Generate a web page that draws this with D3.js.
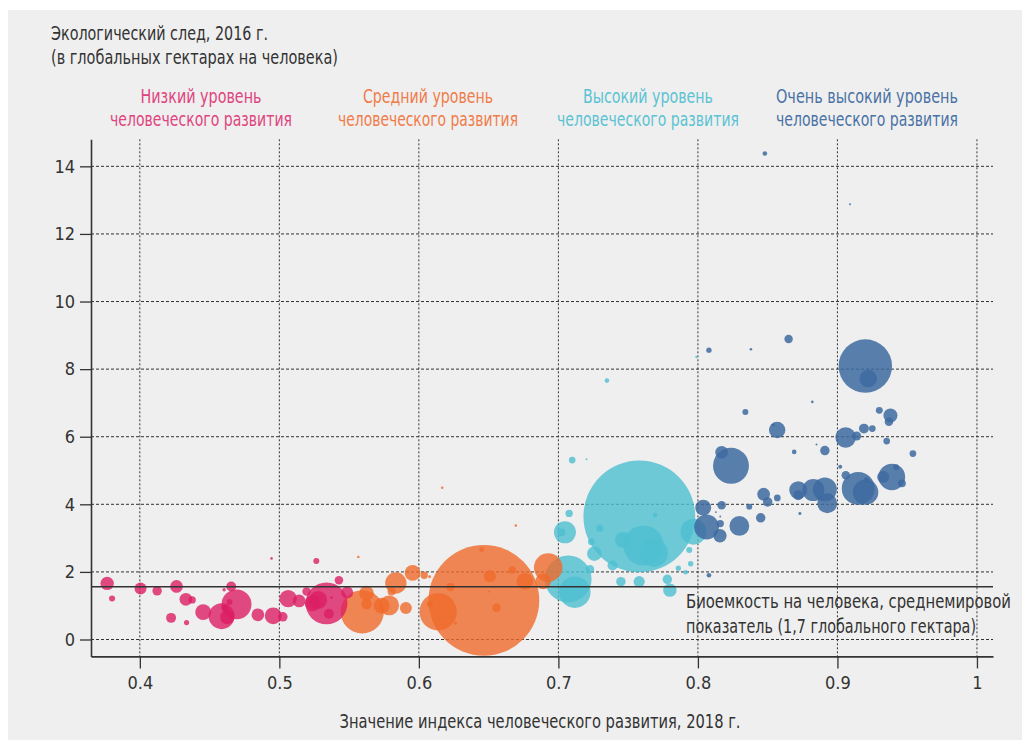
<!DOCTYPE html>
<html><head><meta charset="utf-8">
<script src="https://cdn.jsdelivr.net/npm/d3@7"></script>
<style>
html,body{margin:0;padding:0;background:#fff;}
svg text{font-family:"DejaVu Sans Condensed","DejaVu Sans",sans-serif;}
</style></head>
<body>
<svg id="chart" width="1029" height="747"></svg>
<script>
// ---------- DATA ----------
const groupNames = ["Низкий уровень|человеческого развития","Средний уровень|человеческого развития","Высокий уровень|человеческого развития","Очень высокий уровень|человеческого развития"];
const xTicks = [0.4,0.5,0.6,0.7,0.8,0.9,1.0];
const yTicks = [0,2,4,6,8,10,12,14];
const biocapacity = 1.56;

// low HDI: [hdi, footprint, population (mln)]
const lowHDI = [
 [0.3766,1.66,20],[0.3801,1.21,4],[0.4005,1.51,16],[0.4124,1.44,10],[0.4263,1.57,18],
 [0.4224,0.64,11],[0.4335,0.50,3],[0.4330,1.19,18],[0.4375,1.17,6],[0.4454,0.81,28],
 [0.4586,0.69,75],[0.4693,1.04,100],[0.4626,0.66,22],[0.4655,1.57,11],[0.4604,1.47,1.3],
 [0.4643,1.11,4],[0.4609,0.93,5],[0.4846,0.73,18],[0.4956,0.70,32],[0.5025,0.67,10],
 [0.4944,2.40,0.75],[0.5063,1.21,34],[0.5142,1.14,18],[0.5195,1.42,8],[0.5265,2.32,4],
 [0.5238,1.07,28],[0.5338,1.07,196],[0.5278,1.17,36],[0.5355,0.76,11],[0.5427,1.75,8],
 [0.5486,1.39,16],[0.5374,1.24,0.75]
];
// medium HDI
const mediumHDI = [
 [0.6466,1.16,1369],[0.5594,0.82,209],[0.5625,1.37,24],[0.5625,1.05,12],[0.5733,1.00,28],
 [0.5787,1.01,44],[0.5835,1.67,51],[0.5804,1.42,7],[0.5907,0.93,16],[0.5955,1.97,28],
 [0.6038,1.90,6],[0.6077,1.86,1],[0.5566,2.44,0.75],[0.6167,4.49,0.75],[0.6138,0.82,155],
 [0.6079,1.04,4],[0.6227,1.55,8],[0.6263,0.48,1],[0.6450,2.66,2.4],[0.6509,1.87,16],
 [0.6504,1.42,0.5],[0.6557,0.94,8],[0.6669,2.06,6],[0.6695,3.37,0.75],[0.6760,1.72,31],
 [0.6927,2.13,91],[0.6891,1.72,28]
];
// high HDI
const highHDI = [
 [0.7580,3.64,1394],[0.7047,3.17,54],[0.7023,3.17,7],[0.7077,3.73,6],[0.7297,3.29,6],
 [0.7236,2.89,5],[0.7258,2.54,24],[0.7226,2.08,8],[0.7388,2.19,11],[0.7448,1.71,10],
 [0.7070,1.79,245],[0.7118,1.40,110],[0.7579,1.71,14],[0.7781,1.78,10],[0.7799,1.46,20],
 [0.7860,2.11,3.2],[0.7911,1.99,2.4],[0.7948,2.24,3.2],[0.7938,2.65,4],[0.7968,3.19,75],
 [0.7692,3.68,2.4],[0.7099,5.31,5],[0.7202,5.33,0.45],[0.7348,7.66,2.4],[0.7990,8.36,0.75],
 [0.7610,2.78,180],[0.7685,2.56,87],[0.7462,2.95,28],[0.7670,2.70,22]
];
// very high HDI
const veryHighHDI = [
 [0.8237,5.14,144],[0.8170,5.54,18],[0.8340,6.73,4],[0.8568,6.20,30],[0.8540,6.35,1],
 [0.8820,7.03,0.75],[0.8690,5.55,2.4],[0.8850,5.77,0.45],[0.8910,5.59,10],[0.9059,5.98,47],
 [0.9138,6.02,9],[0.9190,6.24,11],[0.9250,6.24,5],[0.9300,6.78,5.4],[0.9380,6.63,22],
 [0.9369,6.44,8],[0.9353,5.87,5],[0.9541,5.50,5],[0.9020,5.11,1.8],[0.9060,4.86,8],
 [0.9149,4.47,121],[0.9202,4.36,72],[0.9210,4.72,3.2],[0.9390,4.81,79],[0.9328,4.81,16],
 [0.9421,5.10,4],[0.9462,4.62,7],[0.8719,4.42,36],[0.8719,4.27,11],[0.8827,4.42,54],
 [0.8910,4.44,64],[0.8927,4.03,44],[0.8731,3.73,1],[0.8471,4.30,18],[0.8500,4.07,10],
 [0.8569,4.19,5],[0.8368,3.93,4],[0.8450,3.60,10],[0.8297,3.36,44],[0.8170,3.97,8],
 [0.8160,3.43,6],[0.8158,3.07,20],[0.8038,3.90,28],[0.8062,3.33,69],[0.8079,1.90,2.4],
 [0.8129,3.77,0.4],[0.8160,3.64,0.4],
 [0.8480,14.38,2.4],[0.9090,12.88,0.45],[0.8079,8.56,3.2],[0.8380,8.59,0.75],[0.8650,8.89,8],
 [0.9200,8.09,319],[0.9221,7.72,34]
];

const groupColors = ["#dc1e64","#ef6a2a","#4dbfd1","#3d6aa0"];
const labelColors = ["#e0447e","#f07c4a","#5bc3d3","#4a72a5"];
const groups = [lowHDI, mediumHDI, highHDI, veryHighHDI];

// ---------- CHART ----------
const svg = d3.select("#chart");
svg.append("rect").attr("x",8).attr("y",10).attr("width",1014).attr("height",730).attr("fill","#efefef");

const x = d3.scaleLinear().domain([0.365,1.0115]).range([91,993]);
const y = d3.scaleLinear().domain([-0.5,14.8]).range([656.4,139.3]);
const r = d3.scaleSqrt().domain([0,1400]).range([0,56]);

const ink = "#333";

function label(px, py, str, w, anchor, color, size){
  return svg.append("text").attr("x",px).attr("y",py).attr("text-anchor",anchor||"start")
    .attr("fill",color||ink).style("font-size",(size||19)+"px")
    .attr("textLength",w).attr("lengthAdjust","spacingAndGlyphs").text(str);
}

// gridlines
const grid = svg.append("g");
grid.selectAll(".hg").data(yTicks).join("line")
  .attr("x1",x.range()[0]).attr("x2",x.range()[1])
  .attr("y1",d=>y(d)).attr("y2",d=>y(d))
  .attr("stroke",ink).attr("stroke-width",1).attr("stroke-dasharray","3,2");
grid.selectAll(".vg").data(xTicks).join("line")
  .attr("x1",d=>x(d)).attr("x2",d=>x(d))
  .attr("y1",y.range()[1]).attr("y2",y.range()[0])
  .attr("stroke",ink).attr("stroke-width",1).attr("stroke-dasharray","2,2");

// bubbles
const pts = [];
groups.forEach((g,gi)=>g.forEach(d=>pts.push({hdi:d[0],ef:d[1],pop:d[2],g:gi})));
pts.sort((a,b)=>b.pop-a.pop);
svg.append("g").selectAll("circle").data(pts).join("circle")
  .attr("cx",d=>x(d.hdi)).attr("cy",d=>y(d.ef)).attr("r",d=>r(d.pop))
  .attr("fill",d=>groupColors[d.g]).attr("fill-opacity",d=>d.g===3?0.85:0.8);

// biocapacity line
svg.append("line").attr("x1",x.range()[0]).attr("x2",x.range()[1])
  .attr("y1",y(biocapacity)).attr("y2",y(biocapacity))
  .attr("stroke",ink).attr("stroke-width",1.6);
label(686,608,"Биоемкость на человека, среднемировой",325);
label(686,633,"показатель (1,7 глобального гектара)",290);

// axes
const yAxis = d3.axisLeft(y).tickValues(yTicks).tickSize(11).tickSizeOuter(0).tickPadding(5).tickFormat(d3.format("d"));
const gy = svg.append("g").attr("transform","translate(91,0)").call(yAxis);
const xAxis = d3.axisBottom(x).tickValues(xTicks).tickSize(12).tickSizeOuter(0).tickPadding(8)
  .tickFormat(d=>d===1?"1":d.toFixed(1));
const gx = svg.append("g").attr("transform","translate(0,656.4)").call(xAxis);
[gx,gy].forEach(g=>{
  g.select(".domain").attr("stroke",ink).attr("stroke-width",1.6);
  g.selectAll(".tick line").attr("stroke",ink).attr("stroke-width",1.3);
  g.selectAll(".tick text").attr("fill",ink).style("font-size","18px")
   .style("font-family",'"DejaVu Sans Condensed",sans-serif');
});
gx.selectAll(".tick text").attr("transform","scale(0.85,1)").attr("x",0)
  .each(function(d){ d3.select(this).attr("transform",null); });

// titles
label(51,40,"Экологический след, 2016 г.",217);
label(51,64,"(в глобальных гектарах на человека)",287);
label(540,728,"Значение индекса человеческого развития, 2018 г.",401,"middle");

const centers = [201,428,648,867];
const w1 = [121,130,130,182], w2 = [182,180,182,182];
groupNames.forEach((n,i)=>{
  const parts = n.split("|");
  label(centers[i],103,parts[0],w1[i],"middle",labelColors[i]);
  label(centers[i],126,parts[1],w2[i],"middle",labelColors[i]);
});
</script>
</body></html>
